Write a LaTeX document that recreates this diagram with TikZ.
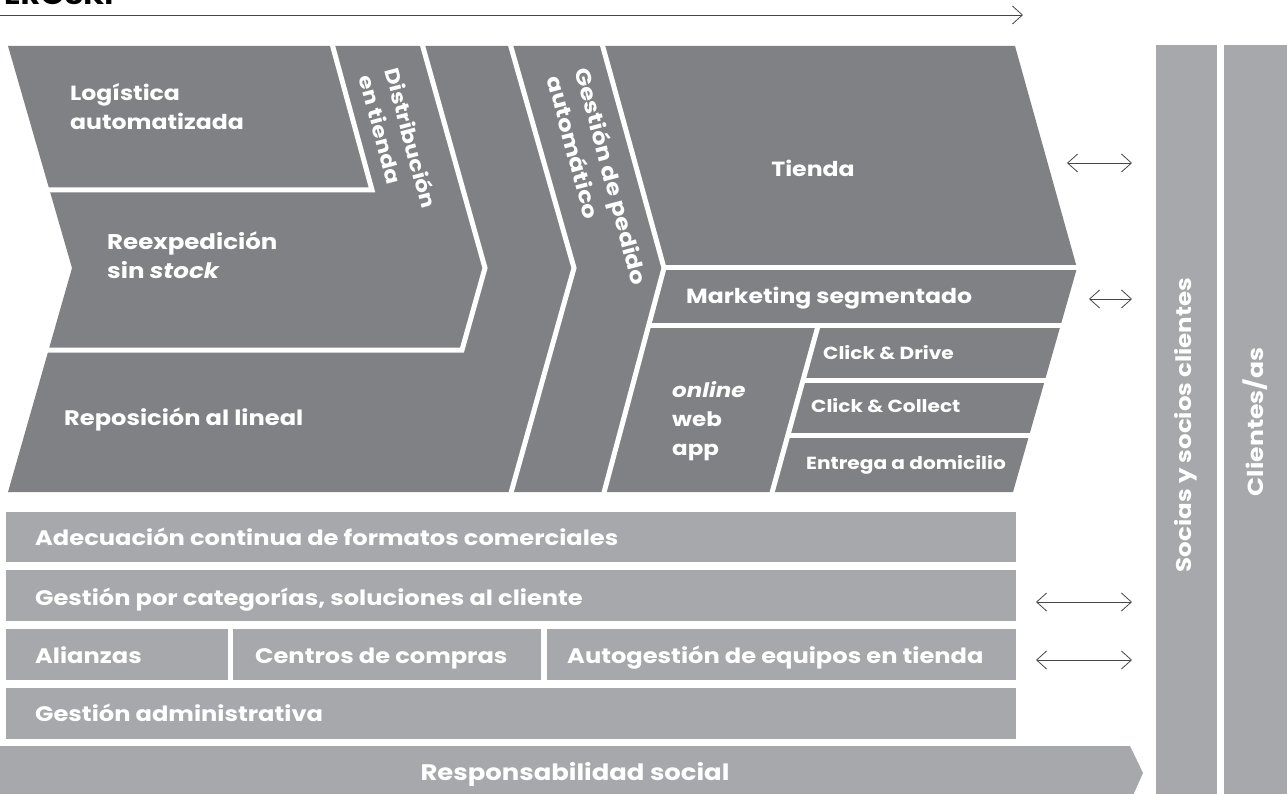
\documentclass[tikz,border=0pt]{standalone}
\usepackage{fontspec}
\setmainfont{Poppins}[FakeStretch=1.15]
\usetikzlibrary{arrows.meta}
\definecolor{darkg}{RGB}{128,129,133}
\definecolor{lightg}{RGB}{167,168,171}
\definecolor{arrg}{RGB}{70,70,72}
\begin{document}
\begin{tikzpicture}[x=1pt,y=-1pt,
  sep/.style={white,line width=5pt},
  lbl/.style={text=white,inner sep=0pt,align=left,font=\bfseries\fontsize{21}{29}\selectfont},
  lbls/.style={lbl,font=\bfseries\fontsize{17.5}{20}\selectfont},
  bandtxt/.style={lbl,anchor=base west,font=\bfseries\fontsize{21}{24}\selectfont},
  coltxt/.style={lbl,rotate=90,font=\bfseries\fontsize{21.3}{24}\selectfont},
  band/.style={fill=lightg},
  barb/.tip={Straight Barb[length=10pt,width=18pt]},
  dbl/.style={barb-barb,line width=0.8pt,draw=arrg},
  sgl/.style={-barb,line width=0.8pt,draw=arrg}]
\useasboundingbox (0,0) rectangle (1287,794);
% heading (cut at top)
\node[anchor=base west,inner sep=0pt,font=\bfseries\fontsize{26.5}{26}\selectfont,text=black] (eroski) at (4,5) {EROSKI};
\coordinate (ts) at (0,15);
\coordinate (te) at (1023,15);
\draw[sgl] (ts) -- (te);
% chevron area
\fill[darkg] (8,46) -- (1015,46) -- (1077,268) -- (1013,492) -- (8,492) -- (72,268) -- cycle;
\draw[sep] (0,190) -- (372,190) -- (331,40);
\draw[sep] (421,40) -- (485,268) -- (462,350) -- (0,350);
\draw[sep] (509,40) -- (574,268) -- (509,500);
\draw[sep] (601,40) -- (664,268) -- (602,500);
\draw[sep] (664,267.5) -- (1100,267.5);
\draw[sep] (648,325.5) -- (1100,325.5);
\draw[sep] (818,326) -- (770,500);
\draw[sep] (803,380) -- (1100,380);
\draw[sep] (787.6,435.5) -- (1100,435.5);
% labels in chevrons
\node[lbl,anchor=west,font=\bfseries\fontsize{20.5}{29}\selectfont] (logi) at (70,107) {Logística\\automatizada};
\node[lbl,anchor=west,font=\bfseries\fontsize{21.3}{29}\selectfont] (reex) at (107,255) {Reexpedición\\sin \textit{stock}};
\node[lbl,anchor=west] (repo) at (64,420) {Reposición al lineal};
\node[lbl,anchor=north west,rotate=-75,font=\bfseries\fontsize{20}{27}\selectfont] (dist) at (401,66) {Distribución\\en tienda};
\node[lbl,anchor=north west,rotate=-75] (gest) at (592,66) {Gestión de pedido\\automático};
\node[lbl,font=\bfseries\fontsize{20.5}{29}\selectfont] (tienda) at (813,168) {Tienda};
\node[lbl,anchor=west,font=\bfseries\fontsize{20.5}{29}\selectfont] (mkt) at (686,298) {Marketing segmentado};
\node[lbl,anchor=west,font=\bfseries\fontsize{20}{29}\selectfont] (online) at (672,421) {\textit{online}\\web\\app};
\node[lbls,anchor=west] (cd) at (823,353) {Click \& Drive};
\node[lbls,anchor=west] (cc) at (811,406) {Click \& Collect};
\node[lbls,anchor=west] (ed) at (806,465) {Entrega a domicilio};
% bands
\fill[band] (6,512) rectangle (1016,562);
\fill[band] (6,570) rectangle (1016,621);
\fill[band] (6,629) rectangle (228,680);
\fill[band] (233,629) rectangle (541,680);
\fill[band] (547,629) rectangle (1016,680);
\fill[band] (6,688) rectangle (1016,739);
\fill[band] (0,746) -- (1130,746) -- (1143,773) -- (1131,800) -- (0,800) -- cycle;
\node[bandtxt] (adec) at (35,545) {Adecuación continua de formatos comerciales};
\node[bandtxt] (gcat) at (35,605) {Gestión por categorías, soluciones al cliente};
\node[bandtxt] (ali) at (35,663) {Alianzas};
\node[bandtxt] (cent) at (255,663) {Centros de compras};
\node[bandtxt] (auto) at (567,663) {Autogestión de equipos en tienda};
\node[bandtxt] (gadm) at (35,721.5) {Gestión administrativa};
\node[bandtxt,anchor=base,font=\bfseries\fontsize{22.5}{24}\selectfont] (resp) at (575,780) {Responsabilidad social};
% right columns
\fill[band] (1156,45) rectangle (1217,794);
\fill[band] (1224,45) rectangle (1287,794);
\node[coltxt] (socias) at (1186,425) {Socias y socios clientes};
\node[coltxt,font=\bfseries\fontsize{21.8}{24}\selectfont] (clien) at (1255,422) {Clientes/as};
% double arrows
\coordinate (a1l) at (1067,163); \coordinate (a1r) at (1132,163);
\coordinate (a2l) at (1089,299); \coordinate (a2r) at (1132,299);
\coordinate (a3l) at (1036,602); \coordinate (a3r) at (1132,602);
\coordinate (a4l) at (1036,660); \coordinate (a4r) at (1132,660);
\draw[dbl] (a1l) -- (a1r);
\draw[dbl] (a2l) -- (a2r);
\draw[dbl] (a3l) -- (a3r);
\draw[dbl] (a4l) -- (a4r);
\end{tikzpicture}
\end{document}
